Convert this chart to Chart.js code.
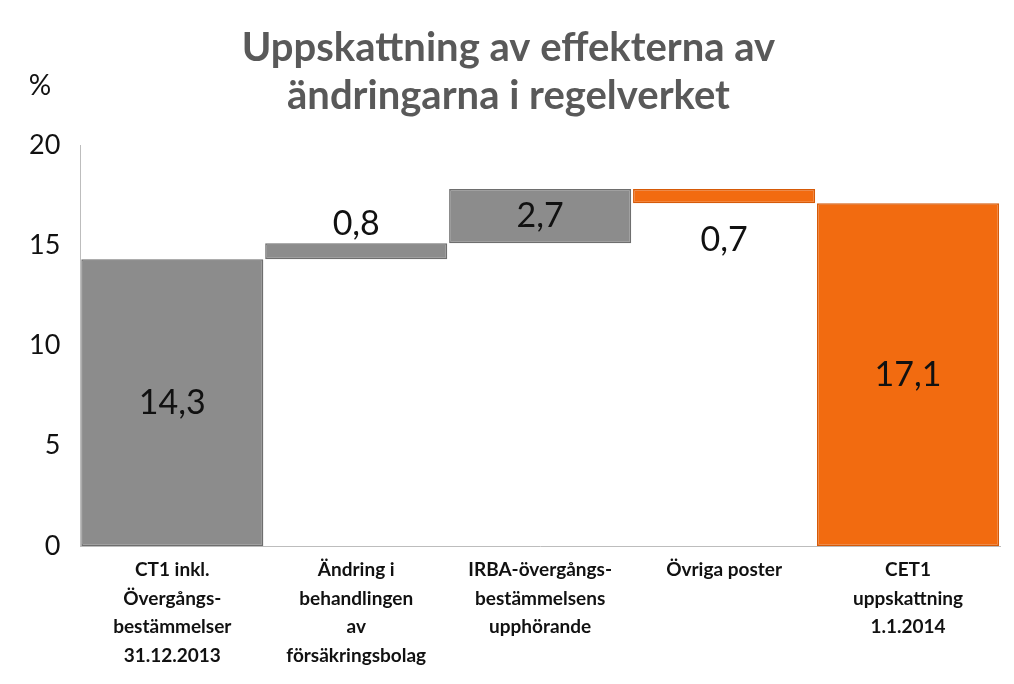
<!DOCTYPE html>
<html><head><meta charset="utf-8">
<script src="https://cdn.jsdelivr.net/npm/chart.js@4"></script>
<style>
html,body{margin:0;padding:0;background:#fff;}
#wrap{position:relative;width:1014px;height:684px;}
</style></head>
<body><div id="wrap"><canvas id="c"></canvas></div>
<script>
// Waterfall: each step is a floating bar [start, end]
const categories = [
  ['CT1 inkl.', 'Övergångs-', 'bestämmelser', '31.12.2013'],
  ['Ändring i', 'behandlingen', 'av', 'försäkringsbolag'],
  ['IRBA-övergångs-', 'bestämmelsens', 'upphörande'],
  ['Övriga poster'],
  ['CET1', 'uppskattning', '1.1.2014']
];
const ranges = [[0, 14.3], [14.3, 15.1], [15.1, 17.8], [17.1, 17.8], [0, 17.1]];
const valueLabels = ['14,3', '0,8', '2,7', '0,7', '17,1'];
const labelPos = ['inside', 'above', 'inside', 'below', 'inside'];
const yTicks = [0, 5, 10, 15, 20];

const GRAY = '#8c8c8c', ORANGE = '#f26b10';
const colors = [GRAY, GRAY, GRAY, ORANGE, ORANGE];
const borders = ['#6e6e6e', '#6e6e6e', '#6e6e6e', '#d65a08', '#d65a08'];

const valueLabelPlugin = {
  id: 'valueLabels',
  afterDatasetsDraw(chart) {
    const { ctx } = chart;
    const meta = chart.getDatasetMeta(0);
    ctx.save();
    ctx.font = '34px Lato, "Liberation Sans", sans-serif';
    ctx.fillStyle = '#111';
    ctx.textAlign = 'center';
    meta.data.forEach((bar, i) => {
      const top = Math.min(bar.y, bar.base), bot = Math.max(bar.y, bar.base);
      let y;
      if (labelPos[i] === 'inside') { ctx.textBaseline = 'middle'; y = (top + bot) / 2; }
      else if (labelPos[i] === 'above') { ctx.textBaseline = 'bottom'; y = top - 2; }
      else { ctx.textBaseline = 'top'; y = bot + 20; }
      ctx.fillText(valueLabels[i], bar.x, y);
    });
    ctx.restore();
  }
};

const percentPlugin = {
  id: 'percent',
  afterDraw(chart) {
    const { ctx } = chart;
    ctx.save();
    ctx.font = '28px Lato, "Liberation Sans", sans-serif';
    ctx.fillStyle = '#111';
    ctx.textAlign = 'center';
    ctx.textBaseline = 'middle';
    ctx.fillText('%', 40, 86);
    ctx.restore();
  }
};

new Chart(document.getElementById('c'), {
  type: 'bar',
  data: {
    labels: categories,
    datasets: [{
      data: ranges,
      backgroundColor: colors,
      borderColor: borders,
      borderWidth: 1.5,
      borderSkipped: false,
      categoryPercentage: 1.0,
      barPercentage: 0.99
    }]
  },
  plugins: [valueLabelPlugin, percentPlugin],
  options: {
    responsive: true,
    maintainAspectRatio: false,
    animation: false,
    layout: { padding: { left: 17, right: 14, top: 6, bottom: 4 } },
    plugins: {
      legend: { display: false },
      tooltip: { enabled: false },
      title: {
        display: true,
        text: ['Uppskattning av effekterna av', 'ändringarna i regelverket'],
        color: '#595959',
        font: { family: 'Lato, "Liberation Sans", sans-serif', size: 40, weight: 'bold', lineHeight: 1.2 },
        padding: { top: 18, bottom: 25 }
      }
    },
    scales: {
      x: {
        grid: { display: false, drawTicks: false },
        border: { display: true, color: '#bdbdbd' },
        ticks: {
          color: '#111', padding: 10, maxRotation: 0, autoSkip: false,
          font: { family: 'Lato, "Liberation Sans", sans-serif', size: 19, weight: 'bold', lineHeight: 1.5 }
        }
      },
      y: {
        min: 0, max: 20,
        afterBuildTicks(axis) { axis.ticks = yTicks.map(v => ({ value: v })); },
        grid: { display: false },
        border: { display: true, color: '#bdbdbd' },
        ticks: {
          color: '#111', padding: 12,
          font: { family: 'Lato, "Liberation Sans", sans-serif', size: 27 }
        }
      }
    }
  }
});
</script></body></html>
